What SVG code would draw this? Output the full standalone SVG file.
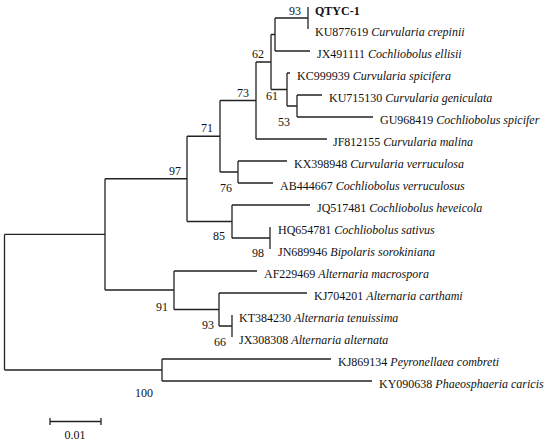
<svg xmlns="http://www.w3.org/2000/svg" width="550" height="444" viewBox="0 0 550 444">
<style>
text{font-family:'Liberation Serif','Times New Roman','DejaVu Serif',serif;font-size:12px;fill:#111111}
.sp{font-style:italic}
.b{font-weight:bold}
.bs{text-anchor:end}
.ln{fill:none;stroke:#222222;stroke-width:1.3}
</style>
<rect width="550" height="444" fill="#ffffff"/>
<g id="connectors" class="ln">
<path d="M4.5 234.4V370M4.5 234.4H105M4.5 370H162"/>
<path d="M105 178.75V290M105 178.75H187M105 290H174"/>
<path d="M187 136.25V221.5M187 136.25H220M187 221.5H232"/>
<path d="M220 100.5V172M220 100.5H256M220 172H238"/>
<path d="M256 62V139M256 62H271M256 139H327"/>
<path d="M271 34.5V89.5M271 34.5H275M271 89.5H287"/>
<path d="M275 18V51M275 18H308M275 51H310"/>
<path d="M308 7V29"/>
<path d="M287 73V106M287 73H290M287 106H297"/>
<path d="M297 95V117M297 95H322M297 117H373"/>
<path d="M238 161V183M238 161H287M238 183H273"/>
<path d="M232 205V238M232 205H310M232 238H270"/>
<path d="M270 227V249"/>
<path d="M174 271V309.5M174 271H257M174 309.5H219"/>
<path d="M219 293V326M219 293H307M219 326H232"/>
<path d="M232 315V337"/>
<path d="M162 359V381M162 359H331M162 381H372"/>
</g>
<g id="tips">
<g id="t-QTYC-1"><text x="315" y="15" class="b">QTYC-1</text></g>
<g id="t-KU877619"><text x="315" y="36">KU877619 <tspan class="sp">Curvularia crepinii</tspan></text></g>
<g id="t-JX491111"><text x="317" y="58">JX491111 <tspan class="sp">Cochliobolus ellisii</tspan></text></g>
<g id="t-KC999939"><text x="297" y="80">KC999939 <tspan class="sp">Curvularia spicifera</tspan></text></g>
<g id="t-KU715130"><text x="329" y="102">KU715130 <tspan class="sp">Curvularia geniculata</tspan></text></g>
<g id="t-GU968419"><text x="380" y="124">GU968419 <tspan class="sp">Cochliobolus spicifer</tspan></text></g>
<g id="t-JF812155"><text x="333" y="146">JF812155 <tspan class="sp">Curvularia malina</tspan></text></g>
<g id="t-KX398948"><text x="294" y="168">KX398948 <tspan class="sp">Curvularia verruculosa</tspan></text></g>
<g id="t-AB444667"><text x="280" y="190">AB444667 <tspan class="sp">Cochliobolus verruculosus</tspan></text></g>
<g id="t-JQ517481"><text x="317" y="212">JQ517481 <tspan class="sp">Cochliobolus heveicola</tspan></text></g>
<g id="t-HQ654781"><text x="278" y="234">HQ654781 <tspan class="sp">Cochliobolus sativus</tspan></text></g>
<g id="t-JN689946"><text x="278" y="256">JN689946 <tspan class="sp">Bipolaris sorokiniana</tspan></text></g>
<g id="t-AF229469"><text x="264" y="278">AF229469 <tspan class="sp">Alternaria macrospora</tspan></text></g>
<g id="t-KJ704201"><text x="314" y="300">KJ704201 <tspan class="sp">Alternaria carthami</tspan></text></g>
<g id="t-KT384230"><text x="239" y="322">KT384230 <tspan class="sp">Alternaria tenuissima</tspan></text></g>
<g id="t-JX308308"><text x="239" y="344">JX308308 <tspan class="sp">Alternaria alternata</tspan></text></g>
<g id="t-KJ869134"><text x="338" y="366">KJ869134 <tspan class="sp">Peyronellaea combreti</tspan></text></g>
<g id="t-KY090638"><text x="379" y="388">KY090638 <tspan class="sp">Phaeosphaeria caricis</tspan></text></g>
</g>
<g id="bootstrap">
<g id="n93a"><text x="301" y="15" class="bs">93</text></g>
<g id="n62"><text x="264" y="58" class="bs">62</text></g>
<g id="n73"><text x="249" y="97" class="bs">73</text></g>
<g id="n61"><text x="278" y="100" class="bs">61</text></g>
<g id="n53"><text x="290" y="126" class="bs">53</text></g>
<g id="n71"><text x="213" y="132" class="bs">71</text></g>
<g id="n97"><text x="181" y="175" class="bs">97</text></g>
<g id="n76"><text x="232" y="192" class="bs">76</text></g>
<g id="n85"><text x="225" y="240" class="bs">85</text></g>
<g id="n98"><text x="264" y="257" class="bs">98</text></g>
<g id="n91"><text x="168" y="311" class="bs">91</text></g>
<g id="n93b"><text x="214" y="329" class="bs">93</text></g>
<g id="n66"><text x="226" y="346" class="bs">66</text></g>
<g id="n100"><text x="153" y="397" class="bs">100</text></g>
</g>
<g id="scalebar">
<path class="ln" d="M50 421.5H101M50 418V425M101 418V425"/>
<text x="75" y="439" text-anchor="middle">0.01</text>
</g>
</svg>
